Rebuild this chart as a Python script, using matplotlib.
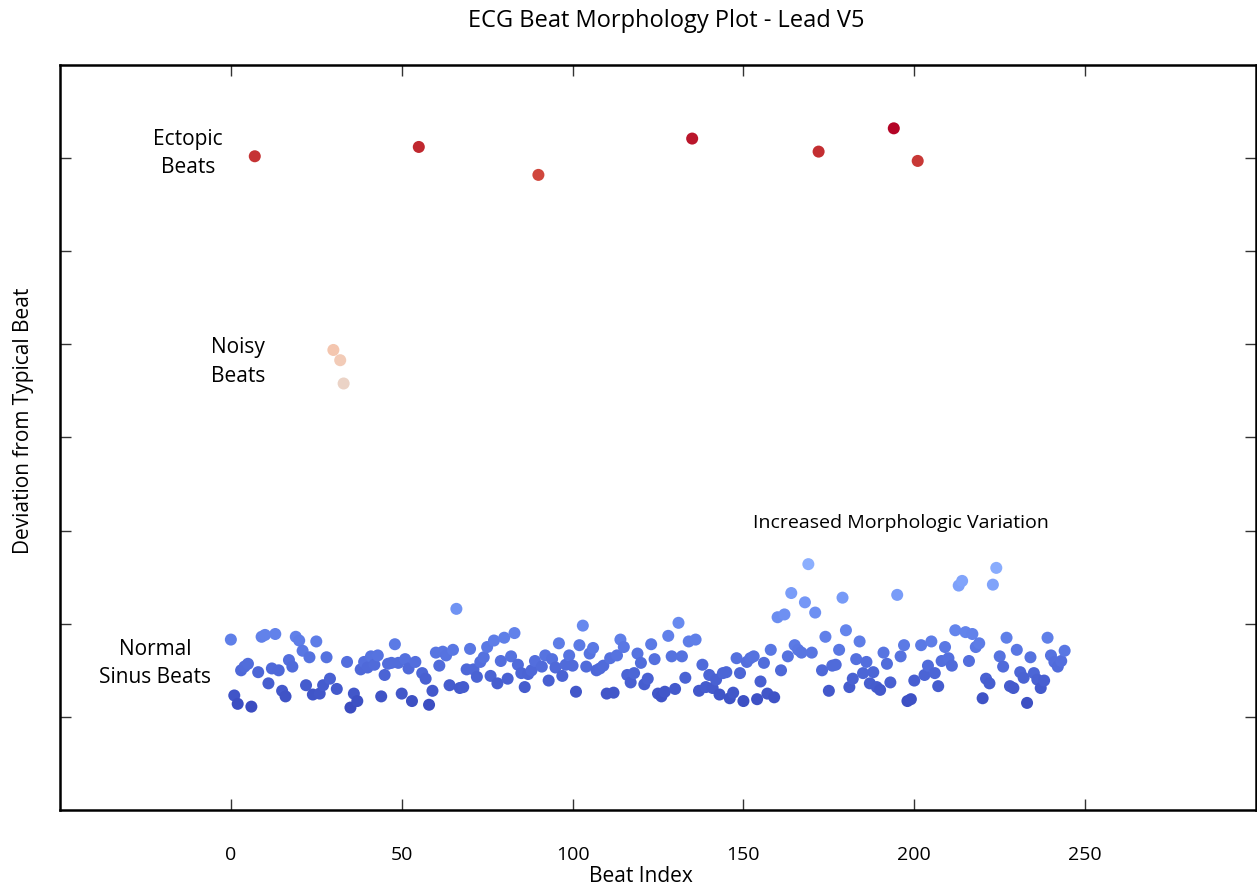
import matplotlib
matplotlib.use("Agg")
import matplotlib.pyplot as plt
import numpy as np

plt.rcParams['font.family'] = ['Open Sans', 'DejaVu Sans']

# ---- data ----
ectopic_idx = [7, 55, 90, 135, 172, 194, 201]
ectopic_vals = [7.02, 7.12, 6.82, 7.21, 7.07, 7.32, 6.97]

noisy_idx = [30, 32, 33]
noisy_vals = [4.94, 4.83, 4.58]

n_beats = 245
normal_vals = [
    1.83, 1.23, 1.14, 1.50, 1.54, 1.57, 1.11, 1.48, 1.86, 1.88,   # 0-10 (no 7)
    1.36, 1.52, 1.89, 1.50, 1.28, 1.22, 1.61, 1.54, 1.86, 1.82,   # 11-20
    1.71, 1.34, 1.64, 1.24, 1.81, 1.25, 1.34, 1.64, 1.41, 1.30,   # 21-31 (no 30)
    1.59, 1.10, 1.25, 1.17, 1.51, 1.59, 1.53, 1.65, 1.56, 1.66,   # 34-43
    1.22, 1.45, 1.57, 1.58, 1.78, 1.58, 1.25, 1.62, 1.52, 1.17,   # 44-53
    1.59, 1.47, 1.41, 1.13, 1.28, 1.69, 1.55, 1.70, 1.66, 1.34,   # 54-64 (no 55)
    1.72, 2.16, 1.31, 1.32, 1.51, 1.73, 1.51, 1.43, 1.59, 1.64,   # 65-74
    1.75, 1.44, 1.82, 1.36, 1.60, 1.85, 1.41, 1.65, 1.90, 1.56,   # 75-84
    1.47, 1.32, 1.46, 1.50, 1.60, 1.54, 1.66, 1.39, 1.62, 1.53,   # 85-95 (no 90)
    1.79, 1.44, 1.56, 1.66, 1.55, 1.27, 1.77, 1.98, 1.54, 1.68,   # 96-105
    1.74, 1.50, 1.52, 1.55, 1.25, 1.63, 1.26, 1.66, 1.83, 1.75,   # 106-115
    1.45, 1.37, 1.47, 1.68, 1.58, 1.35, 1.41, 1.78, 1.62, 1.25,   # 116-125
    1.22, 1.27, 1.87, 1.65, 1.30, 2.01, 1.65, 1.42, 1.81, 1.83,   # 126-136 (no 135)
    1.28, 1.56, 1.32, 1.45, 1.31, 1.40, 1.24, 1.47, 1.48, 1.20,   # 137-146
    1.26, 1.63, 1.47, 1.17, 1.59, 1.63, 1.65, 1.19, 1.38, 1.58,   # 147-156
    1.25, 1.72, 1.21, 2.07, 1.50, 2.10, 1.65, 2.33, 1.77, 1.72,   # 157-166
    1.69, 2.23, 2.64, 1.69, 2.12, 1.50, 1.86, 1.28, 1.55, 1.56,   # 167-177 (no 172)
    1.72, 2.28, 1.93, 1.32, 1.41, 1.62, 1.81, 1.47, 1.59, 1.36,   # 178-187
    1.48, 1.32, 1.29, 1.69, 1.57, 1.37, 2.31, 1.65, 1.77, 1.17,   # 188-198 (no 194)
    1.19, 1.39, 1.77, 1.45, 1.55, 1.81, 1.47, 1.33, 1.60, 1.75,   # 199-209 (no 201)
    1.63, 1.55, 1.93, 2.41, 2.46, 1.91, 1.60, 1.89, 1.75, 1.79,   # 210-219
    1.20, 1.41, 1.36, 2.42, 2.60, 1.65, 1.54, 1.85, 1.33, 1.31,   # 220-229
    1.72, 1.48, 1.42, 1.15, 1.64, 1.47, 1.40, 1.31, 1.39, 1.85,   # 230-239
    1.66, 1.59, 1.54, 1.60, 1.71,                                 # 240-244
]
normal_idx = [i for i in range(n_beats) if i not in ectopic_idx and i not in noisy_idx]

x_ticks = [0, 50, 100, 150, 200, 250]

# ---- figure ----
fig = plt.figure(figsize=(12.57, 8.88), dpi=100)
ax = fig.add_axes([60/1257, 1-810/888, (1256-60)/1257, (810-65)/888])

all_x = np.array(normal_idx + noisy_idx + ectopic_idx)
all_y = np.array(normal_vals + noisy_vals + ectopic_vals)
ax.scatter(all_x, all_y, c=all_y, cmap='coolwarm', s=75, linewidths=0, zorder=3)

ax.set_xlim(-50, 300)
ax.set_ylim(0, 8)
ax.set_xticks(x_ticks)
ax.set_xticklabels([str(t) for t in x_ticks])
ax.set_yticks([1, 2, 3, 4, 5, 6, 7])
ax.set_yticklabels([])
ax.tick_params(direction='in', length=8, width=1, top=True, right=True,
               labelsize=14, pad=26, colors='#333333', labelcolor='black')
for sp in ax.spines.values():
    sp.set_linewidth(1.8)
    sp.set_color('black')

fig.text(666/1257, 1-21/888, "ECG Beat Morphology Plot - Lead V5", ha='center', va='center', fontsize=17)
fig.text(641/1257, 1-876/888, "Beat Index", ha='center', va='center', fontsize=15)
fig.text(24/1257, 1-421/888, "Deviation from Typical Beat", ha='center', va='center',
         rotation=90, fontsize=15)

ax.text(-12.6, 7.05, "Ectopic\nBeats", ha='center', va='center', fontsize=15, linespacing=1.45)
ax.text(2.0, 4.81, "Noisy\nBeats", ha='center', va='center', fontsize=15, linespacing=1.45)
ax.text(-22.2, 1.57, "Normal\nSinus Beats", ha='center', va='center', fontsize=15, linespacing=1.45)
ax.text(196.2, 3.08, "Increased Morphologic Variation", ha='center', va='center', fontsize=14)

fig.savefig("out.png", dpi=100)
